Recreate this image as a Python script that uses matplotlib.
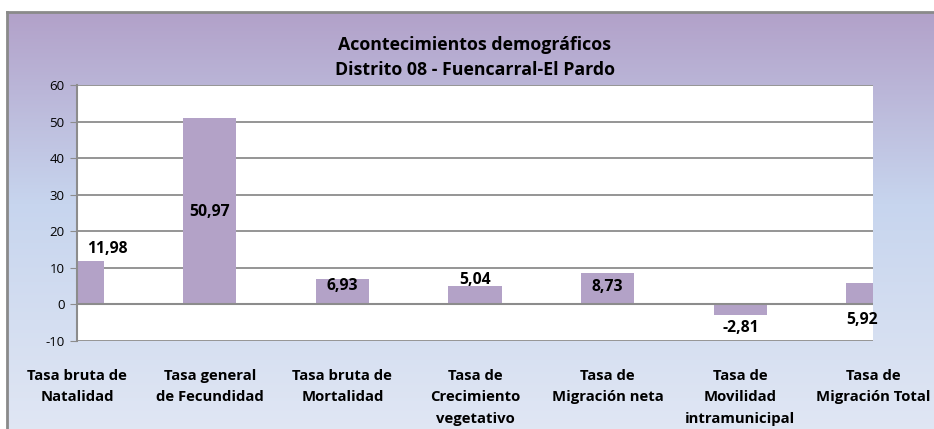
import matplotlib.pyplot as plt
import numpy as np
from matplotlib.colors import LinearSegmentedColormap
from matplotlib.lines import Line2D

categories = ["Tasa bruta de\nNatalidad", "Tasa general\nde Fecundidad",
              "Tasa bruta de\nMortalidad", "Tasa de\nCrecimiento\nvegetativo",
              "Tasa de\nMigración neta", "Tasa de\nMovilidad\nintramunicipal",
              "Tasa de\nMigración Total"]
values = [11.98, 50.97, 6.93, 5.04, 8.73, -2.81, 5.92]
labels = ["11,98", "50,97", "6,93", "5,04", "8,73", "-2,81", "5,92"]
yticks = [-10, 0, 10, 20, 30, 40, 50, 60]

# label offsets in pixels from the bar end (dx, dy; positive dy = up)
label_off = [(30, 12), (0, -94), (0, -7), (0, 6), (0, -14), (0, -13), (-11, -37)]

plt.rcParams['font.family'] = ['Open Sans', 'DejaVu Sans']
plt.rcParams['axes.unicode_minus'] = False

W, H = 934, 429
fig = plt.figure(figsize=(W / 100, H / 100), dpi=100)

# gradient background of the chart area
bg = fig.add_axes([7 / W, -0.02, 1.02, (H - 12) / H + 0.02], zorder=0)
cmap = LinearSegmentedColormap.from_list(
    "bg", [(0, "#b2a1c9"), (0.45, "#c7d5ee"), (1, "#e1e7f4")])
grad = np.linspace(0, 1, 256).reshape(-1, 1)
bg.imshow(grad, aspect="auto", cmap=cmap, extent=[0, 1, 0, 1], origin="upper")
bg.set_axis_off()
fig.add_artist(Line2D([7 / W, 1.01], [(H - 12) / H] * 2, color="#8a8a8a", lw=2))
fig.add_artist(Line2D([7 / W] * 2, [-0.01, (H - 12) / H], color="#8a8a8a", lw=2))

ax = fig.add_axes([77 / W, (H - 341) / H, (873 - 77) / W, (341 - 85) / H], zorder=1)
ax.set_facecolor("white")
x = np.arange(len(values))
ax.bar(x, values, width=0.4, color="#b3a2c7", zorder=2)
ax.set_xlim(0, len(values) - 1)
ax.set_ylim(-10, 60)
ax.set_yticks(yticks)
ax.yaxis.grid(True, color="#8c8c8c", lw=1.3, zorder=1)
ax.axhline(0, color="#8c8c8c", lw=1.5, zorder=3)
for s in ["top", "right", "bottom"]:
    ax.spines[s].set_visible(False)
ax.spines["left"].set_color("#8c8c8c")
ax.spines["left"].set_linewidth(1.5)
ax.tick_params(axis="y", length=5, color="#8c8c8c", labelsize=9.5, pad=4)
ax.set_xticks(x)
ax.set_xticklabels(categories, fontsize=10.7, fontweight="bold", linespacing=1.7)
ax.tick_params(axis="x", length=0, pad=20)

for xi, v, lab, (dx, dy) in zip(x, values, labels, label_off):
    ax.annotate(lab, (xi, v), xytext=(dx * 0.72, dy * 0.72), textcoords="offset points",
                ha="center", va="center", fontsize=11.3, fontweight="bold", zorder=4,
                annotation_clip=False)

fig.text(475 / W, 1 - 45 / H, "Acontecimientos demográficos", ha="center", va="center",
         fontsize=12.8, fontweight="bold")
fig.text(475 / W, 1 - 70 / H, "Distrito 08 - Fuencarral-El Pardo", ha="center", va="center",
         fontsize=12.8, fontweight="bold")

fig.savefig("out.png", dpi=100)
